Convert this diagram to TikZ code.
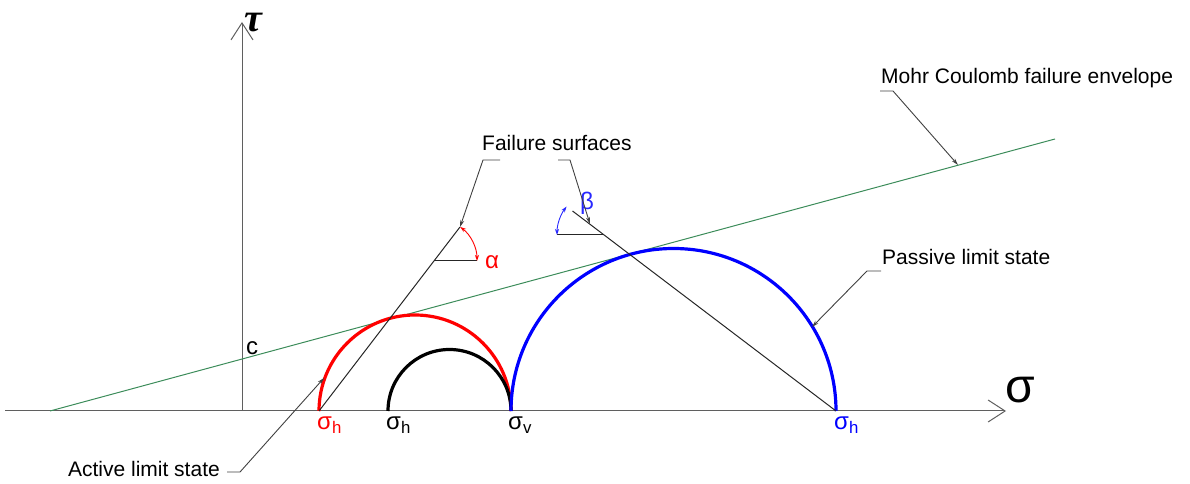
\documentclass[tikz,border=0pt]{standalone}
\usepackage{fontspec}
\setmainfont{Liberation Sans}
\newfontfamily\taufont{Liberation Serif}
\usetikzlibrary{arrows.meta}

\definecolor{envgreen}{RGB}{60,140,90}
\definecolor{axisgray}{RGB}{95,95,95}
\definecolor{angblue}{RGB}{40,40,255}

\tikzset{
  axis/.style={draw=axisgray,line width=1pt,-{Straight Barb[length=17pt,width=22pt]}},
  mohr/.style={line width=3.2pt},
  surface/.style={draw=black!85,line width=1pt},
  leader/.style={draw=black!75,line width=0.9pt,-{Stealth[length=7pt,width=4pt]}},
  angarc/.style={line width=0.9pt,{Stealth[length=6pt,width=4pt]}-{Stealth[length=6pt,width=4pt]}},
  txt/.style={inner sep=0pt,font=\fontsize{21}{25}\selectfont},
  stress/.style={inner sep=0pt,anchor=base west,font=\fontsize{24}{28}\selectfont},
}

\begin{document}
\begin{tikzpicture}[x=1pt,y=1pt]
\useasboundingbox (0,0) rectangle (1190,484);

% axes
\coordinate (O) at (242,73);
\draw[axis] (5,73) -- (1006,73);
\draw[axis] (O) -- (242,462);
\node[inner sep=0pt,anchor=base west,font=\fontsize{48}{50}\selectfont] (sig) at (1005,81) {σ};
\node[inner sep=0pt,anchor=base west,font=\taufont\bfseries\itshape\fontsize{40}{44}\selectfont] (tau) at (244,452) {τ};

% failure envelope
\draw[envgreen,line width=1pt] (50,73) -- (1055,345);
\node[txt,anchor=base west,font=\fontsize{24}{26}\selectfont] (c) at (246,129) {c};

% Mohr circles
\draw[mohr,red] (319,73) arc[start angle=180,end angle=0,radius=96];
\draw[mohr] (388,73) arc[start angle=180,end angle=0,radius=61.5];
\draw[mohr,blue] (511,73) arc[start angle=180,end angle=0,radius=162.5];

\node[stress,red] (sha) at (317,54) {σ\textsubscript{h}};
\node[stress] (sh0) at (386,54) {σ\textsubscript{h}};
\node[stress] (sv) at (508,54) {σ\textsubscript{v}};
\node[stress,blue] (shp) at (834,54) {σ\textsubscript{h}};

% active failure surface
\coordinate (pa) at (319,73);
\coordinate (va) at (434,223);
\coordinate (ea) at (460,257);
\draw[surface] (pa) -- (ea);
\draw[surface] (va) -- (477,223);
\draw[angarc,red] (477,223) arc[start angle=0,end angle=52.5,radius=43];
\node[inner sep=0pt,red,font=\fontsize{24}{26}\selectfont] (alpha) at (492,221.5) {α};

% passive failure surface
\coordinate (pp) at (836,73);
\coordinate (vp) at (604,249);
\coordinate (ep) at (572.5,273);
\draw[surface] (pp) -- (ep);
\draw[surface] (vp) -- (557,249);
\draw[angarc,angblue] (557,249) arc[start angle=180,end angle=142.8,radius=47];
\node[inner sep=0pt,angblue,font=\fontsize{24}{26}\selectfont] (beta) at (587,281) {β};

% labels and leaders
\node[txt,anchor=base west] (mc) at (881,400) {Mohr Coulomb failure envelope};
\coordinate (mcend) at (958,319);
\draw[leader] (880,393) -- (893,393) -- (mcend);

\node[txt,anchor=base west] (fs) at (482,333) {Failure surfaces};
\coordinate (fp) at (590,260);
\draw[leader] (500,324) -- (483,324) -- (ea);
\draw[leader] (558,324) -- (570,324) -- (fp);

\node[txt,anchor=base west] (pl) at (882,219) {Passive limit state};
\coordinate (plend) at (812,157);
\draw[leader] (881,213) -- (867,213) -- (plend);

\node[txt,anchor=base east] (al) at (220,8) {Active limit state};
\coordinate (alend) at (324,106);
\draw[leader] (227,12) -- (240,12) -- (alend);
\end{tikzpicture}
\end{document}
